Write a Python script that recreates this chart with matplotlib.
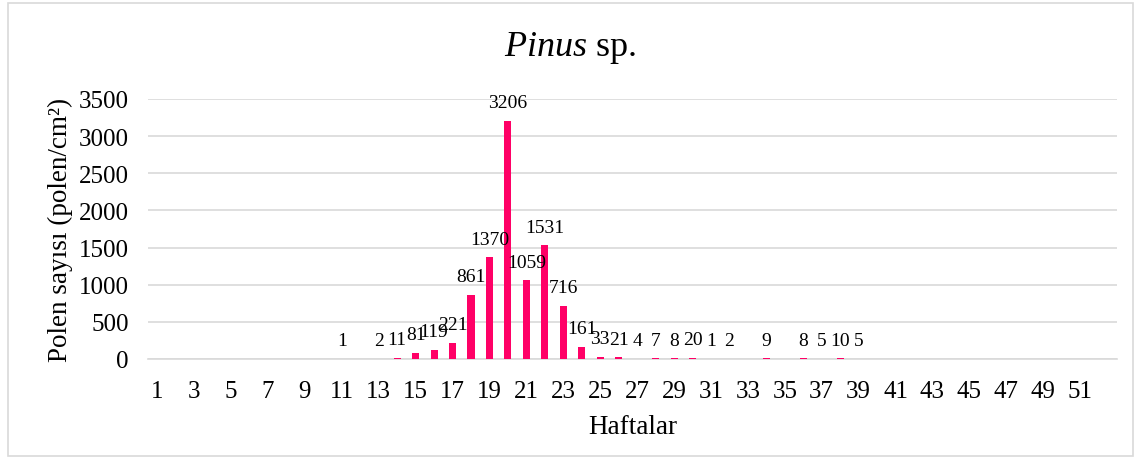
import matplotlib.pyplot as plt
from matplotlib.patches import Rectangle

# Haftalık polen verisi (Pinus sp.)
weeks = list(range(1, 53))
counts = [0, 0, 0, 0, 0, 0, 0, 0, 0, 0,
          1, 0, 2, 11, 81, 119, 221, 861, 1370, 3206,
          1059, 1531, 716, 161, 33, 21, 4, 7, 8, 20,
          1, 2, 0, 9, 0, 8, 5, 10, 5, 0,
          0, 0, 0, 0, 0, 0, 0, 0, 0, 0,
          0, 0]
y_ticks = [0, 500, 1000, 1500, 2000, 2500, 3000, 3500]

plt.rcParams['font.family'] = ['Liberation Serif', 'DejaVu Serif']
plt.rcParams['mathtext.fontset'] = 'custom'
plt.rcParams['mathtext.rm'] = 'Liberation Serif'
plt.rcParams['mathtext.it'] = 'Liberation Serif:italic'

fig = plt.figure(figsize=(11.35, 4.6), dpi=100)
ax = fig.add_axes([148 / 1135, 100 / 460, (1117 - 148) / 1135, 260 / 460])

grid_color = '#D9D9D9'
ax.bar(weeks, counts, width=0.38, color='#FF0066', zorder=3)

# Veri etiketleri (sıfır olmayanlar)
for w, c in zip(weeks, counts):
    if c > 0:
        ax.annotate(str(c), (w, c), textcoords='offset points', xytext=(0, 7),
                    ha='center', va='bottom', fontsize=14, color='black')

ax.set_xlim(0.5, 53.0)
ax.set_ylim(0, 3500)
ax.set_yticks(y_ticks)
ax.set_xticks(weeks[::2])
ax.set_xticklabels([str(w) for w in weeks[::2]])
ax.tick_params(axis='both', length=0, labelsize=18)
ax.tick_params(axis='y', pad=14)
ax.tick_params(axis='x', pad=15)
ax.grid(axis='y', color=grid_color, linewidth=1.2, zorder=0)
for side in ['top', 'right', 'left']:
    ax.spines[side].set_visible(False)
ax.spines['bottom'].set_color(grid_color)
ax.spines['bottom'].set_linewidth(1.2)

ax.set_ylabel('Polen sayısı (polen/cm²)', fontsize=19.5, labelpad=4)
ax.set_xlabel('Haftalar', fontsize=19.5, labelpad=9)

fig.text(570, 460 - 48, r'$\it{Pinus}$ sp.', fontsize=26, ha='center', va='center',
         transform=None)

# Grafik çerçevesi
fig.patches.append(Rectangle((8 / 1135, 3 / 460), 1125 / 1135, 453 / 460,
                             transform=fig.transFigure, fill=False,
                             edgecolor=grid_color, linewidth=1.2))

fig.savefig('out.png', dpi=100)
